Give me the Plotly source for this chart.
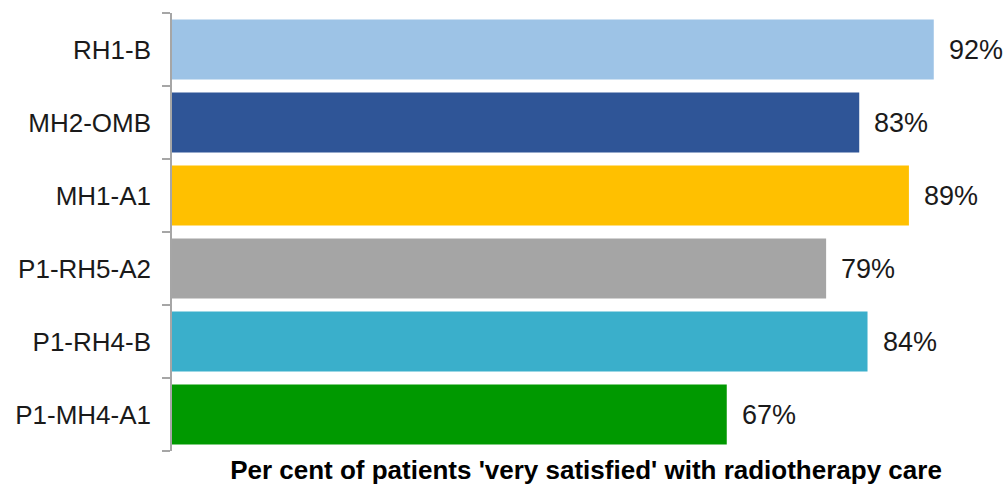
import plotly.graph_objects as go

# Survey results by unit
units = ["RH1-B", "MH2-OMB", "MH1-A1", "P1-RH5-A2", "P1-RH4-B", "P1-MH4-A1"]
pct_very_satisfied = [92, 83, 89, 79, 84, 67]
bar_colors = ["#9DC3E6", "#2F5597", "#FFC000", "#A5A5A5", "#3AAFCB", "#009900"]

FONT = "Liberation Sans, Arial, sans-serif"

fig = go.Figure(
    go.Bar(
        y=units,
        x=pct_very_satisfied,
        orientation="h",
        marker=dict(color=bar_colors, line=dict(width=0)),
        width=0.82,
        hoverinfo="skip",
    )
)

# Value labels placed just past the end of each bar
for unit, val in zip(units, pct_very_satisfied):
    fig.add_annotation(
        x=val,
        y=unit,
        text=f"{val}%",
        xanchor="left",
        xshift=13,
        showarrow=False,
        font=dict(family=FONT, size=27, color="#1a1a1a"),
    )

fig.update_layout(
    width=1008,
    height=486,
    margin=dict(l=172, r=8, t=13, b=35),
    paper_bgcolor="white",
    plot_bgcolor="white",
    showlegend=False,
    font=dict(family=FONT, color="#1a1a1a"),
)

fig.update_xaxes(
    range=[0, 100],
    showgrid=False,
    zeroline=False,
    showticklabels=False,
    showline=False,
    ticks="",
    title=dict(
        text="<b>Per cent of patients 'very satisfied' with radiotherapy care</b>",
        font=dict(size=26, color="#000000"),
        standoff=9,
    ),
)

fig.update_yaxes(
    categoryorder="array",
    categoryarray=units[::-1],
    showgrid=False,
    showline=True,
    linecolor="#A6A6A6",
    linewidth=1.5,
    ticks="outside",
    tickson="boundaries",
    ticklen=8,
    tickcolor="#A6A6A6",
    tickwidth=1.5,
    tickfont=dict(size=26, color="#1a1a1a"),
    ticklabelstandoff=14,
)

fig.write_html("out.html")
